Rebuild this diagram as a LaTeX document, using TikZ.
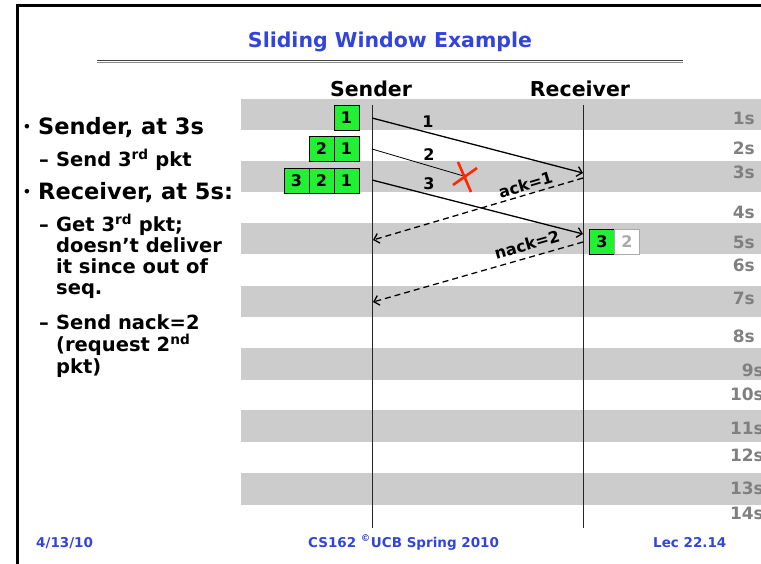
\documentclass[tikz,border=0pt]{standalone}
\usepackage{fontspec}
\setmainfont{DejaVu Sans}
\usetikzlibrary{arrows.meta}
\definecolor{bandgray}{RGB}{204,204,204}
\definecolor{pktgreen}{RGB}{34,240,51}
\definecolor{slideblue}{RGB}{51,68,221}
\definecolor{timegray}{RGB}{128,128,128}
\definecolor{lostgray}{RGB}{170,170,170}
\definecolor{crossred}{RGB}{255,40,0}
\newcommand{\fs}[1]{\fontsize{#1}{#1}\selectfont}
\begin{document}
\begin{tikzpicture}[x=1pt,y=-1pt,
  every node/.style={inner sep=0pt, font=\bfseries},
  band/.style={fill=bandgray},
  lifeline/.style={line width=0.9pt, black!85},
  pkt/.style={draw=black, fill=pktgreen, line width=0.8pt, minimum width=25pt,
    minimum height=25pt, font=\bfseries\fs{16}},
  lostpkt/.style={pkt, draw=lostgray, fill=white, text=lostgray},
  msg/.style={line width=1.3pt, -{Straight Barb[length=5pt,width=10pt]}},
  reply/.style={msg, dash pattern=on 6pt off 4pt},
  msglabel/.style={font=\bfseries\fs{16}},
  timelabel/.style={anchor=east, text=timegray, font=\bfseries\fs{17}},
  header/.style={anchor=base, font=\bfseries\fs{20.5}},
  itemone/.style={anchor=base west, font=\bfseries\fs{22.5}},
  itemtwo/.style={anchor=base west, font=\bfseries\fs{19.5}},
  bulletmark/.style={anchor=base, font=\bfseries\fs{13}},
  dashmark/.style={anchor=base, font=\bfseries\fs{19.5}},
  footer/.style={anchor=base west, text=slideblue, font=\bfseries\fs{13.5}}]
\useasboundingbox (0,0) rectangle (761,564);

% time bands
\foreach \y in {99,161,223,286,348,410,473}
  \fill[band] (241,\y) rectangle (761,\y+31.5);

% slide frame and title rule
\draw[line width=3pt] (17,564) -- (17,6) -- (761,6);
\draw[line width=0.9pt, black!75] (97,60.2) -- (683,60.2);
\draw[line width=0.7pt, black!45] (97,62.6) -- (683,62.6);

% title
\node[anchor=base, text=slideblue, font=\bfseries\fs{20.5}] (title) at (390,48) {Sliding Window Example};

% lifelines
\node[header] (sender) at (371,97) {Sender};
\node[header] (receiver) at (580,97) {Receiver};
\coordinate (sTop) at (372,105);
\coordinate (sBot) at (372,528);
\coordinate (rTop) at (583,105);
\coordinate (rBot) at (583,528);
\draw[lifeline] (sTop) -- (sBot);
\draw[lifeline] (rTop) -- (rBot);

% sender window
\node[pkt] (w1a) at (346.5,118) {1};
\node[pkt] (w2b) at (321.5,149) {2};
\node[pkt] (w2a) at (346.5,149) {1};
\node[pkt] (w3c) at (296.5,180.5) {3};
\node[pkt] (w3b) at (321.5,180.5) {2};
\node[pkt] (w3a) at (346.5,180.5) {1};

% receiver buffer
\node[pkt] (rb3) at (602,242) {3};
\node[lostpkt] (rb2) at (627,242) {2};

% messages
\coordinate (s1) at (372,118);
\coordinate (r1) at (583,173);
\coordinate (s2) at (372,149);
\coordinate (lost) at (467,177);
\coordinate (s3) at (372,180);
\coordinate (r3) at (583,234);
\coordinate (rAck) at (583,178);
\coordinate (sAck) at (373,240);
\coordinate (rNack) at (583,242);
\coordinate (sNack) at (373,302);

\draw[msg] (s1) -- (r1);
\draw[line width=0.8pt] (s2) -- (lost);
\draw[msg] (s3) -- (r3);
\draw[reply] (rAck) -- node[sloped, above=3pt, pos=0.26, msglabel] (ack) {ack=1} (sAck);
\draw[reply] (rNack) -- node[sloped, above=6pt, pos=0.25, msglabel] (nack) {nack=2} (sNack);

\node[msglabel] (l1) at (428,122) {1};
\node[msglabel] (l2) at (429,155) {2};
\node[msglabel] (l3) at (429,184) {3};

% lost packet marker
\draw[crossred, line width=2.6pt] (453,185) -- (477,168);
\draw[crossred, line width=2.6pt] (458,162) -- (471,192);

% time axis
\node[timelabel] (t1) at (755,118) {1s};
\node[timelabel] (t2) at (755,148) {2s};
\node[timelabel] (t3) at (755,172) {3s};
\node[timelabel] (t4) at (755,212) {4s};
\node[timelabel] (t5) at (755,242) {5s};
\node[timelabel] (t6) at (755,265) {6s};
\node[timelabel] (t7) at (755,298) {7s};
\node[timelabel] (t8) at (755,336) {8s};
\node[timelabel] (t9) at (764,370) {9s};
\node[timelabel] (t10) at (764,394) {10s};
\node[timelabel] (t11) at (764,428) {11s};
\node[timelabel] (t12) at (764,455) {12s};
\node[timelabel] (t13) at (764,488) {13s};
\node[timelabel] (t14) at (764,513) {14s};

% bullet list
\node[bulletmark] (b1) at (27,132) {•};
\node[itemone] (i1) at (38,135) {Sender, at 3s};
\node[dashmark] (d1) at (44,167) {\textendash};
\node[itemtwo] (i1a) at (56,167) {Send 3\textsuperscript{rd} pkt};
\node[bulletmark] (b2) at (27,197) {•};
\node[itemone] (i2) at (38,200) {Receiver, at 5s:};
\node[dashmark] (d2) at (44,232) {\textendash};
\node[itemtwo] (i2a) at (56,232) {Get 3\textsuperscript{rd} pkt;};
\node[itemtwo] (i2b) at (56,253) {doesn't deliver};
\node[itemtwo] (i2c) at (56,274) {it since out of};
\node[itemtwo] (i2d) at (56,295) {seq.};
\node[dashmark] (d3) at (44,330) {\textendash};
\node[itemtwo] (i2e) at (56,330) {Send nack=2};
\node[itemtwo] (i2f) at (56,352) {(request 2\textsuperscript{nd}};
\node[itemtwo] (i2g) at (56,373) {pkt)};

% footer
\node[footer] (date) at (36,547) {4/13/10};
\node[footer] (course) at (308,547) {CS162 \textsuperscript{©}UCB Spring 2010};
\node[footer] (lec) at (653,547) {Lec 22.14};
\end{tikzpicture}
\end{document}
